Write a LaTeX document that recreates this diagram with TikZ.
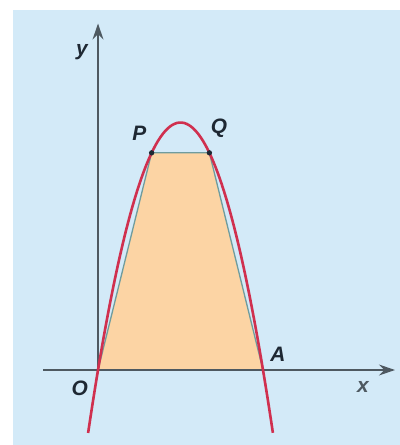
\documentclass[tikz,border=0pt]{standalone}
\usepackage{fontspec}
\setmainfont{Liberation Sans}
\usetikzlibrary{arrows.meta}
\definecolor{skyback}{HTML}{D3EAF8}
\definecolor{curvered}{HTML}{D0304F}
\definecolor{axisgrey}{HTML}{4E5961}
\definecolor{areafill}{HTML}{FCD4A4}
\definecolor{edgeteal}{HTML}{6F9C9E}
\definecolor{labeldark}{HTML}{1E2833}

\begin{document}
\begin{tikzpicture}[scale=1,
  axisline/.style={line width=1.2pt, axisgrey, -{Stealth[length=11pt, width=7.5pt]}},
  edgeline/.style={line width=0.9pt, edgeteal},
  curveline/.style={line width=1.8pt, curvered},
  ptlabel/.style={labeldark, font=\Large\bfseries\itshape}]

\useasboundingbox (-2.376, -1.818) rectangle (7.32, 8.97);
\fill [skyback] (-2.06, -1.818) rectangle (7.32, 8.727);

\coordinate (O) at (0, 0);
\coordinate (A) at (4, 0);
\coordinate (P) at (1.3, 5.265);
\coordinate (Q) at (2.7, 5.265);
\coordinate (xstart) at (-1.33, 0);
\coordinate (xend) at (7.2, 0);
\coordinate (yend) at (0, 8.4);

\fill [areafill] (O) -- (A) -- (Q) -- (P) -- cycle;
\draw [edgeline] (O) -- (P) -- (Q) -- (A);

\draw [axisline] (xstart) -- (xend);
\draw [axisline] (O) -- (yend);

\draw [curveline] plot [domain=-0.24:4.24, samples=80, smooth] (\x, {1.5*\x*(4-\x)});

\fill [labeldark] (P) circle (0.065);
\fill [labeldark] (Q) circle (0.065);

\node [ptlabel] (labO) at (-0.44, -0.44) {O};
\node [ptlabel] (labA) at (4.36, 0.38) {A};
\node [ptlabel] (labP) at (1.0, 5.75) {P};
\node [ptlabel] (labQ) at (2.93, 5.87) {Q};
\node [ptlabel, axisgrey] (labx) at (6.42, -0.41) {x};
\node [ptlabel] (laby) at (-0.39, 7.71) {y};

\end{tikzpicture}
\end{document}
